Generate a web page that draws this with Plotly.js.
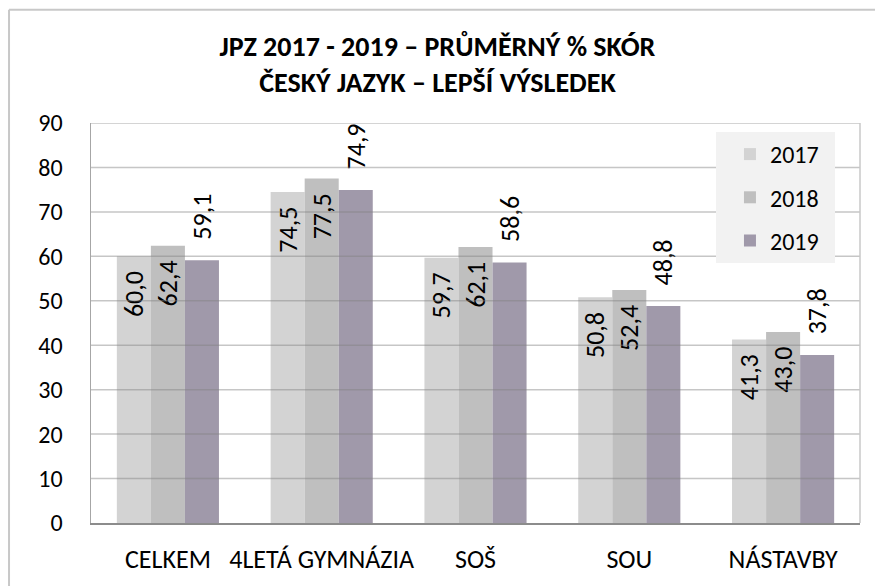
<!DOCTYPE html>
<html>
<head>
<meta charset="utf-8">
<script src="https://cdn.plot.ly/plotly-3.0.1.min.js"></script>
<style>
html,body{margin:0;padding:0;background:#fff;}
#chart{width:875px;height:586px;}
</style>
</head>
<body>
<div id="chart"></div>
<script>
const categories = ["CELKEM", "4LETÁ GYMNÁZIA", "SOŠ", "SOU", "NÁSTAVBY"];
const seriesNames = ["2017", "2018", "2019"];
const values2017 = [60.0, 74.5, 59.7, 50.8, 41.3];
const values2018 = [62.4, 77.5, 62.1, 52.4, 43.0];
const values2019 = [59.1, 74.9, 58.6, 48.8, 37.8];
const yTicks = [0, 10, 20, 30, 40, 50, 60, 70, 80, 90];

const FONT = "Carlito, Lato, 'Liberation Sans', sans-serif";
const colors = ["#d3d3d3", "#bfbfbf", "#a099aa"];
const LABEL_SIZE = 26;
const PAD = "\u00a0\u00a0";

function insideTrace(name, vals, color) {
  return {
    type: "bar", name: name + PAD, x: categories, y: vals,
    marker: {color: color},
    legendgroup: name,
    texttemplate: "%{y:.1f}" + PAD,
    textposition: "inside",
    insidetextanchor: "end",
    textangle: -90,
    constraintext: "none",
    cliponaxis: false,
    textfont: {family: FONT, size: LABEL_SIZE, color: "#000"},
    hoverinfo: "skip"
  };
}

const traces = [
  insideTrace(seriesNames[0], values2017, colors[0]),
  insideTrace(seriesNames[1], values2018, colors[1]),
  {
    type: "bar", name: seriesNames[2] + PAD, x: categories, y: values2019,
    marker: {color: colors[2]},
    legendgroup: seriesNames[2],
    texttemplate: PAD + "\u00a0%{y:.1f}",
    textposition: "outside",
    textangle: -90,
    constraintext: "none",
    cliponaxis: false,
    textfont: {family: FONT, size: LABEL_SIZE, color: "#000"},
    hoverinfo: "skip"
  }
];

const gridShapes = yTicks.filter(v => v > 0).map(v => ({
  type: "line", xref: "paper", yref: "y", x0: 0, x1: 1, y0: v, y1: v,
  line: {color: "rgba(128,128,128,0.45)", width: 1.5}, layer: "above"
}));

const shapes = gridShapes.concat([
  {type: "line", xref: "paper", yref: "y", x0: 1, x1: 1, y0: 0, y1: 90,
   line: {color: "#c8c8c8", width: 1.5}, layer: "above"},
  {type: "line", xref: "paper", yref: "paper", x0: -0.1066, x1: -0.1066, y0: 1.283, y1: -0.2,
   line: {color: "#c8c8c8", width: 2}},
  {type: "line", xref: "paper", yref: "paper", x0: -0.1066, x1: 1.03, y0: 1.283, y1: 1.283,
   line: {color: "#c8c8c8", width: 2}}
]);

const layout = {
  width: 875, height: 586,
  margin: {l: 91, r: 15, t: 123, b: 63},
  paper_bgcolor: "#fff", plot_bgcolor: "#fff",
  separators: ", ",
  font: {family: FONT, color: "#000"},
  title: {
    text: "<b>JPZ 2017 - 2019 – PRŮMĚRNÝ % SKÓR<br>ČESKÝ JAZYK – LEPŠÍ VÝSLEDEK</b>",
    font: {family: FONT, size: 28, color: "#000"},
    x: 0.5, xref: "container", xanchor: "center",
    y: 0.905, yref: "container", yanchor: "top"
  },
  barmode: "group",
  bargap: 0.336,
  bargroupgap: 0,
  showlegend: true,
  legend: {
    x: 0.8127, xanchor: "left", y: 0.9775, yanchor: "top",
    bgcolor: "#f2f2f2", borderwidth: 0,
    font: {family: FONT, size: 24, color: "#000"},
    tracegroupgap: 9,
    indentation: 14
  },
  xaxis: {
    type: "category",
    showline: true, linecolor: "#8c8c8c", linewidth: 2,
    showgrid: false, ticks: "",
    tickfont: {family: FONT, size: 26, color: "#000"},
    ticklabelstandoff: 12,
    fixedrange: true
  },
  yaxis: {
    range: [0, 90], tickvals: yTicks, ticktext: yTicks.map(String),
    showline: true, linecolor: "#a6a6a6", linewidth: 1.5,
    showgrid: false, zeroline: false, ticks: "",
    tickfont: {family: FONT, size: 24, color: "#000"},
    ticklabelstandoff: 22,
    fixedrange: true
  },
  shapes: shapes
};

Plotly.newPlot("chart", traces, layout, {displayModeBar: false, staticPlot: true});
</script>
</body>
</html>
